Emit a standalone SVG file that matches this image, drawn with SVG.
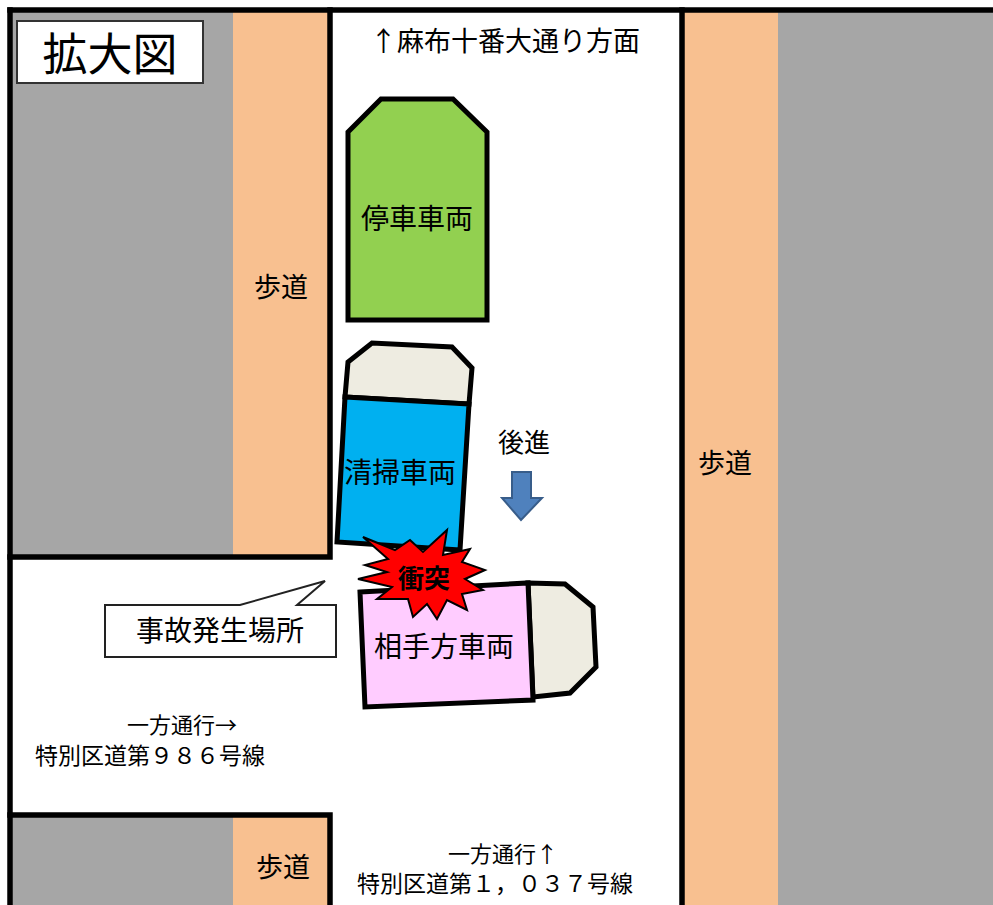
<svg xmlns="http://www.w3.org/2000/svg" width="993" height="905" viewBox="0 0 993 905">
<style>
.t{font-family:"Noto Sans CJK JP","Noto Sans",sans-serif;fill:#000}
.road{fill:none;stroke:#000;stroke-width:5.5;stroke-linecap:square}
.car{stroke:#000;stroke-width:5;stroke-linejoin:miter}
.gray{fill:#A6A6A6}
.walk{fill:#F8C090}
.beige{fill:#EEECE1}
</style>
<rect width="993" height="905" fill="#fff"/>
<g id="blocks">
<rect class="gray" x="10" y="10" width="223" height="547"/>
<rect class="walk" x="233" y="10" width="97" height="547"/>
<rect class="gray" x="10" y="815" width="223" height="90"/>
<rect class="walk" x="233" y="815" width="97" height="90"/>
<rect class="walk" x="682" y="10" width="96" height="895"/>
<rect class="gray" x="778" y="10" width="215" height="895"/>
</g>
<g id="roadlines">
<line class="road" x1="10" y1="10" x2="993" y2="10"/>
<line class="road" x1="10" y1="10" x2="10" y2="905"/>
<polyline class="road" points="10,557 330,557 330,10"/>
<polyline class="road" points="10,815 330,815 330,905"/>
<line class="road" x1="682" y1="10" x2="682" y2="905"/>
</g>
<g id="title">
<rect x="17" y="21" width="186" height="62" fill="#fff" stroke="#333" stroke-width="2"/>
<text class="t" x="110" y="71" font-size="45" text-anchor="middle">拡大図</text>
</g>
<g id="labels">
<text class="t" x="505" y="51" font-size="27" text-anchor="middle">↑麻布十番大通り方面</text>
<text class="t" x="281" y="297" font-size="27" text-anchor="middle">歩道</text>
<text class="t" x="725" y="473" font-size="27" text-anchor="middle">歩道</text>
<text class="t" x="283" y="877" font-size="27" text-anchor="middle">歩道</text>
<text class="t" x="182" y="733" font-size="22" text-anchor="middle">一方通行→</text>
<text class="t" x="150" y="764" font-size="23" text-anchor="middle">特別区道第９８６号線</text>
<text class="t" x="503" y="862" font-size="22" text-anchor="middle">一方通行↑</text>
<text class="t" x="495" y="892" font-size="23" text-anchor="middle">特別区道第１，０３７号線</text>
</g>
<g id="parked-car">
<polygon class="car" points="348,132 381,99 453,99 487,132 487,320 348,320" fill="#92D050"/>
<text class="t" x="417" y="229" font-size="28" text-anchor="middle">停車車両</text>
</g>
<g id="cleaning-truck">
<polygon class="car beige" points="345,397 348,362 372,343 452,347 472,368 469,404"/>
<polygon class="car" points="345,397 469,404 460,550 337,542" fill="#00B0F0"/>
<text class="t" x="400" y="483" font-size="28" text-anchor="middle">清掃車両</text>
</g>
<g id="other-car">
<polygon class="car beige" points="528,583 565,584 593,607 596,667 570,693 533,697"/>
<polygon class="car" points="360,592 528,583 533,700 365,707" fill="#FFCCFF"/>
<text class="t" x="444" y="657" font-size="28" text-anchor="middle">相手方車両</text>
</g>
<g id="collision">
<polygon points="363,537 395,550 410,540 423,552 447,530 443,555 470,549 462,562 485,570 465,579 483,590 462,594 467,610 447,600 437,619 427,604 413,617 408,599 377,599 392,587 358,579 387,572 365,565 388,559" fill="#FF0000" stroke="#000" stroke-width="2" stroke-linejoin="miter"/>
<text class="t" x="424" y="588" font-size="26" font-weight="bold" text-anchor="middle">衝突</text>
</g>
<g id="reverse">
<text class="t" x="524" y="452" font-size="26" text-anchor="middle">後進</text>
<polygon points="512,472 531,472 531,498 542,498 521,520 502,498 512,498" fill="#4F81BD" stroke="#385D8A" stroke-width="2"/>
</g>
<g id="callout">
<path d="M105,605 H240 L325,581 L297,605 H336 V657 H105 Z" fill="#fff" stroke="#222" stroke-width="2"/>
<text class="t" x="220" y="641" font-size="28" text-anchor="middle">事故発生場所</text>
</g>
</svg>
